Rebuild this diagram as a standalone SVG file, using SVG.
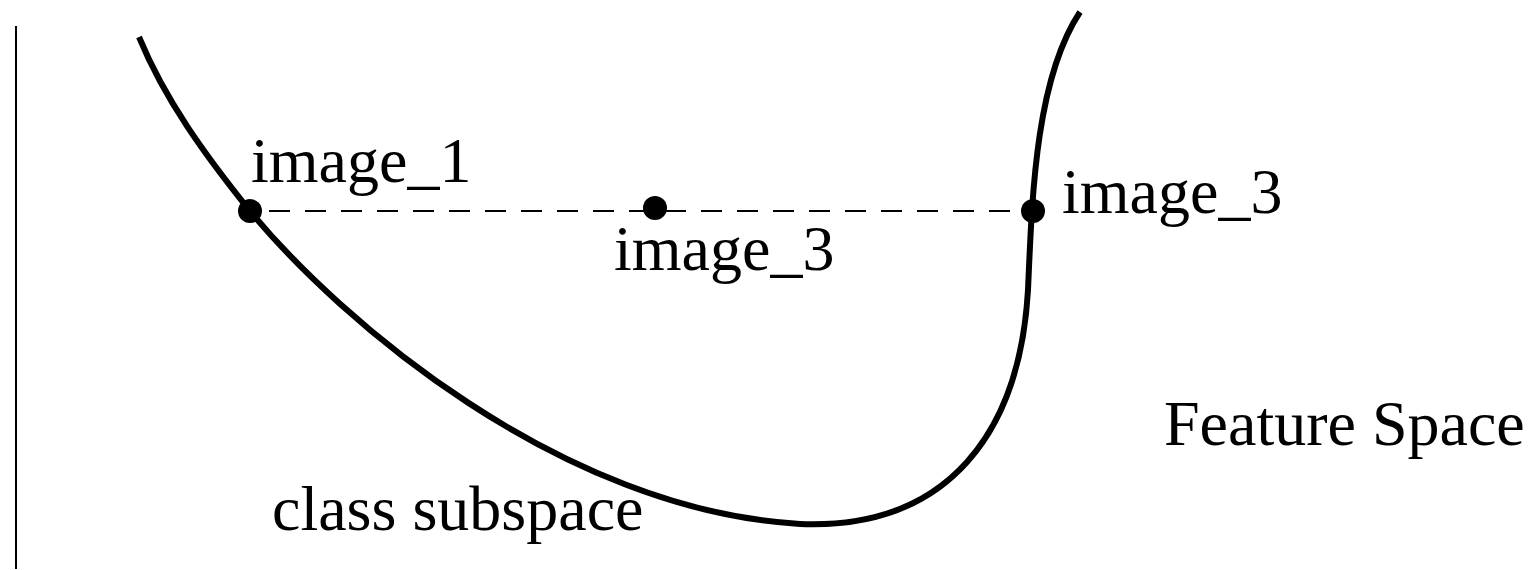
<svg xmlns="http://www.w3.org/2000/svg" width="1540" height="570" viewBox="0 0 1540 570">
<style>
.lbl{font-family:"Liberation Serif","Times New Roman",serif;font-size:64px;fill:#000}
.dot{fill:#000}
</style>
<rect width="1540" height="570" fill="#fff"/>
<g id="axis"><line x1="16" y1="26" x2="16" y2="569" stroke="#000" stroke-width="2"/></g>
<g id="subspace"><path d="M139,37 C165,100 205,155 250,211 C340,320 560,510 800,524 C950,530 1020,430 1028,290 C1032,200 1035,80 1080,12" fill="none" stroke="#000" stroke-width="6"/></g>
<g id="connectors"><line x1="269" y1="211" x2="1020" y2="211" stroke="#000" stroke-width="2" stroke-dasharray="21 15"/></g>
<g id="image1"><circle class="dot" cx="250" cy="211" r="12"/><text class="lbl" x="251" y="182">image_1</text></g>
<g id="image3mid"><circle class="dot" cx="655" cy="208" r="12"/><text class="lbl" x="614" y="270">image_3</text></g>
<g id="image3right"><circle class="dot" cx="1033" cy="211" r="12"/><text class="lbl" x="1062" y="213">image_3</text></g>
<g id="featureSpace"><text class="lbl" x="1164" y="445">Feature Space</text></g>
<g id="classSubspace"><text class="lbl" x="272" y="530">class subspace</text></g>
</svg>
